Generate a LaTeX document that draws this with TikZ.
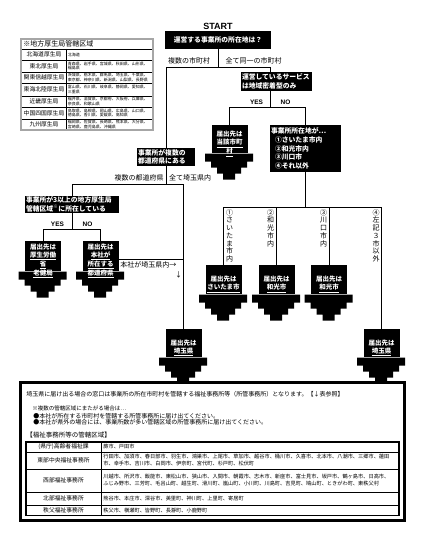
\documentclass[tikz,border=0pt]{standalone}
\usepackage{fontspec}
\setmainfont{Noto Sans CJK JP}
\newfontfamily\arialfont{Liberation Sans}
\usetikzlibrary{calc}
\tikzset{font=\fontsize{7}{8}\selectfont}
\tikzstyle{lbl}=[inner sep=0pt]
\tikzstyle{qbox}=[fill=black,text=white,inner sep=1pt,font=\bfseries\fontsize{6.8}{8.6}\selectfont]
\tikzstyle{destrect}=[fill=black,inner sep=0pt,minimum width=36,anchor=north]
\tikzstyle{desttext}=[inner sep=0pt,align=center,text=white,font=\bfseries\fontsize{6.5}{8}\selectfont]
\tikzstyle{vlbl}=[inner sep=0pt,anchor=north,align=center,font=\fontsize{7}{7.7}\selectfont]
\tikzstyle{yn}=[inner sep=0pt,font=\arialfont\bfseries\fontsize{6.5}{7}\selectfont]
\tikzstyle{kyoku}=[inner sep=0pt,font=\fontsize{5.8}{6}\selectfont]
\tikzstyle{kpref}=[inner sep=0pt,anchor=west,align=left,font=\fontsize{4}{4.8}\selectfont]
\tikzstyle{jimu}=[inner sep=0pt,font=\fontsize{5.8}{6}\selectfont]
\tikzstyle{jarea}=[inner sep=0pt,anchor=west,align=left,font=\fontsize{5.2}{7}\selectfont]

% stepped black arrow: name, top centre, body height, text
\newcommand{\destarrow}[4]{%
  \node[destrect,minimum height=#3] (#1) at (#2) {};
  \fill (#1.south west) -- ++(-6,0) -- ++(0,8) -- ++(6,0) -- ++(0,6) -- ++(6,0) -- ++(0,6) -- ++(6,0) -- ++(0,6)
    -- ++(12,0) -- ++(0,-6) -- ++(6,0) -- ++(0,-6) -- ++(6,0) -- ++(0,-6) -- ++(6,0) -- ++(0,-8) -- cycle;
  \node[desttext] (#1t) at ([yshift=-4.5]#1.center) {#4};
}

\begin{document}
\begin{tikzpicture}[x=1pt,y=-1pt,line width=0.7pt]
\useasboundingbox (0,0) rectangle (430,535);

% questions
\node[lbl,font=\arialfont\bfseries\fontsize{9}{10}\selectfont] (start) at (218,26.5) {START};
\node[qbox,align=center,minimum width=106,minimum height=18] (q1) at (218,40) {運営する事業所の所在地は？};
\node[qbox,text width=69,align=left,minimum height=19] (q2) at (276.5,81.5) {運営しているサービス\\は地域密着型のみ};
\node[qbox,text width=69,align=left,minimum height=47] (q3) at (305.5,148.5)
  {事業所所在地が…\\\hspace*{4pt}①さいたま市内\\\hspace*{4pt}②和光市内\\\hspace*{4pt}③川口市\\\hspace*{4pt}④それ以外};
\node[qbox,text width=56,align=left,minimum height=18] (q4) at (166,157) {事業所が複数の\\都道府県にある};
\node[qbox,text width=92,align=left,minimum height=17] (q5) at (72,204.5) {事業所が3以上の地方厚生局\\管轄区域\textsuperscript{※}に所在している};

% destinations
\destarrow{d1}{229.5,125}{28}{届出先は\\\underline{当該市町}\\\underline{村}}
\destarrow{d2}{43,241}{30}{届出先は\\\underline{厚生労働}\\\underline{省}\\\underline{老健局}}
\destarrow{d3}{100.5,241}{30}{届出先は\\\underline{本社が}\\\underline{所在する}\\\underline{都道府県}}
\destarrow{d4}{223.5,265}{29}{届出先は\\\underline{さいたま市}}
\destarrow{d5}{276.5,265}{29}{届出先は\\\underline{和光市}}
\destarrow{d6}{329,265}{29}{届出先は\\\underline{和光市}}
\destarrow{d7}{183.5,329}{28}{届出先は\\\underline{埼玉県}}
\destarrow{d8}{381.5,329}{28}{届出先は\\\underline{埼玉県}}

% branch points
\coordinate (j1l) at (166,67);
\coordinate (j1r) at (270.5,67);
\coordinate (j2l) at (229.5,107);
\coordinate (j2r) at (305.5,107);
\coordinate (j3l) at (223.5,207);
\coordinate (j3r) at (381.5,207);
\coordinate (j4l) at (72,184);
\coordinate (j4r) at (183.5,184);
\coordinate (j5l) at (43,229);
\coordinate (j5r) at (100.5,229);

\draw (q1.south) -- (q1.south |- j1l);
\draw (q4.north) -- (j1l) -- (j1r) -- (j1r |- q2.north);
\node[lbl] (a1) at (189,61) {複数の市町村};
\node[lbl] (a2) at (253.5,61) {全て同一の市町村};

\draw (j1r |- q2.south) -- (j1r |- j2l);
\draw (d1.north) -- (j2l) -- (j2r) -- (q3.north);
\node[yn] (y1) at (256.5,102) {YES};
\node[yn] (n1) at (285.5,102) {NO};

\draw (q3.south) -- (q3.south |- j3l);
\draw (d4.north) -- (j3l) -- (j3r) -- (d8.north);
\draw (d5.north) -- (d5.north |- j3l);
\draw (d6.north) -- (d6.north |- j3l);
\node[vlbl] (v1) at (229.5,209) {①\\さ\\い\\た\\ま\\市\\内};
\node[vlbl] (v2) at (270.5,209) {②\\和\\光\\市\\内};
\node[vlbl] (v3) at (323.5,209) {③\\川\\口\\市\\内};
\node[vlbl] (v4) at (376,209) {④\\左\\記\\３\\市\\以\\外};

\draw (q4.south) -- (q4.south |- j4l);
\draw (q5.north) -- (j4l) -- (j4r) -- (d7.north);
\node[lbl] (a3) at (139,178) {複数の都道府県};
\node[lbl] (a4) at (190,178) {全て埼玉県内};

\draw (q5.south) -- (q5.south |- j5l);
\draw (d2.north) -- (j5l) -- (j5r) -- (d3.north);
\node[yn] (y2) at (57.5,224) {YES};
\node[yn] (n2) at (87.5,224) {NO};

\draw ([yshift=-3]d3.east) -- ([yshift=-3]d3.east -| d7.north);
\node[lbl,anchor=west] (a5) at (120,265) {本社が埼玉県内→};
\node[lbl] (a6) at (178.5,275) {↓};

% regional bureau table
\draw[gray!70,line width=2] (21,39) rectangle (153,130);
\node[lbl,anchor=west] (kt) at (23,44) {※地方厚生局管轄区域};
\foreach \ya/\yb/\k/\p in {49/60/北海道厚生局/北海道,
    60/72/東北厚生局/{青森県、岩手県、宮城県、秋田県、山形県、\\福島県},
    72/83/関東信越厚生局/{茨城県、栃木県、群馬県、埼玉県、千葉県、\\東京都、神奈川県、新潟県、山梨県、長野県},
    83/96/東海北陸厚生局/{富山県、石川県、岐阜県、静岡県、愛知県、\\三重県},
    96/107/近畿厚生局/{福井県、滋賀県、京都府、大阪府、兵庫県、\\奈良県、和歌山県},
    107/119/中国四国厚生局/{鳥取県、島根県、岡山県、広島県、山口県、\\徳島県、香川県、愛媛県、高知県},
    119/130/九州厚生局/{福岡県、佐賀県、長崎県、熊本県、大分県、\\宮崎県、鹿児島県、沖縄県}}{
  \draw[line width=0.6] (22,\ya) -- (152,\ya);
  \node[kyoku] (k\ya) at (44,{(\ya+\yb)/2}) {\k};
  \node[kpref] (p\ya) at (67.5,{(\ya+\yb)/2}) {\p};
}
\draw[line width=0.6] (66,49) -- (66,129);

% office table
\draw[line width=3] (20.5,382) rectangle (404.5,520.5);
\node[lbl,anchor=west,font=\fontsize{6}{7}\selectfont] (t1) at (26,394)
  {埼玉県に届け出る場合の窓口は事業所の所在市町村を管轄する福祉事務所等（所管事務所）となります。【↓表参照】};
\node[lbl,anchor=west,font=\fontsize{5.5}{6}\selectfont] (t2) at (32,408) {※複数の管轄区域にまたがる場合は…};
\node[lbl,anchor=west,font=\fontsize{6}{6}\selectfont] (t3) at (33,416) {●本社が所在する市町村を管轄する所管事務所に届け出てください。};
\node[lbl,anchor=west,font=\fontsize{6}{6}\selectfont] (t4) at (33,422) {●本社が県外の場合には、事業所数が多い管轄区域の所管事務所に届け出てください。};
\node[lbl,anchor=west,font=\fontsize{6.5}{7}\selectfont] (t5) at (26,435) {【福祉事務所等の管轄区域】};
\foreach \ya/\yb/\k/\p in {442/452/{(県庁)高齢者福祉課}/{蕨市、戸田市},
    452/469/東部中央福祉事務所/{行田市、加須市、春日部市、羽生市、鴻巣市、上尾市、草加市、越谷市、桶川市、久喜市、北本市、八潮市、三郷市、蓮田\\市、幸手市、吉川市、白岡市、伊奈町、宮代町、杉戸町、松伏町},
    469/492/西部福祉事務所/{川越市、所沢市、飯能市、東松山市、狭山市、入間市、朝霞市、志木市、新座市、富士見市、坂戸市、鶴ヶ島市、日高市、\\ふじみ野市、三芳町、毛呂山町、越生町、滑川町、嵐山町、小川町、川島町、吉見町、鳩山町、ときがわ町、東秩父村},
    492/505/北部福祉事務所/{熊谷市、本庄市、深谷市、美里町、神川町、上里町、寄居町},
    505/515.5/秩父福祉事務所/{秩父市、横瀬町、皆野町、長瀞町、小鹿野町}}{
  \draw[line width=0.6] (26,\ya) -- (399,\ya);
  \node[jimu] (o\ya) at (63.5,{(\ya+\yb)/2}) {\k};
  \node[jarea] (r\ya) at (103,{(\ya+\yb)/2}) {\p};
}
\draw[line width=1.2] (26,442) rectangle (399,515.5);
\draw[line width=0.6] (101,442) -- (101,515.5);
\end{tikzpicture}
\end{document}
